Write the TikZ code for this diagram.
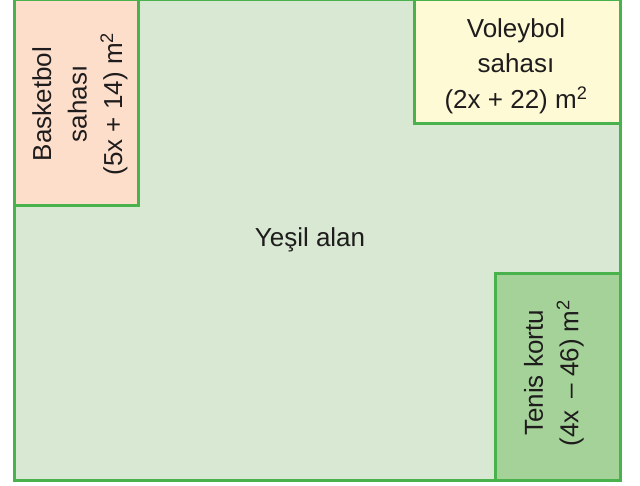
\documentclass[tikz,border=0pt]{standalone}
\usepackage{fontspec}
\setmainfont{Liberation Sans}
\definecolor{lineg}{RGB}{74,178,77}
\definecolor{grassc}{RGB}{217,232,210}
\definecolor{basketc}{RGB}{253,222,203}
\definecolor{voleyc}{RGB}{255,250,214}
\definecolor{tenisc}{RGB}{164,210,152}
\definecolor{textc}{RGB}{30,28,28}
\begin{document}
\begin{tikzpicture}[x=1pt,y=1pt,
  field/.style={draw=lineg, line width=3pt, inner sep=0pt, anchor=south west},
  lbl/.style={font=\fontsize{26}{35.5}\selectfont, align=center, text=textc, inner sep=0pt}]
\useasboundingbox (0,0) rectangle (640,485);
\node[field, fill=grassc, minimum width=606pt, minimum height=481pt] (outer) at (13,3) {};
\node[field, fill=basketc, minimum width=124pt, minimum height=206pt] (basket) at (13,278) {};
\node[field, fill=voleyc, minimum width=206pt, minimum height=124pt] (voley) at (413,360) {};
\node[field, fill=tenisc, minimum width=125pt, minimum height=207pt] (tenis) at (494,3) {};
\node[lbl] (grasslbl) at (310,245) {Yeşil alan};
\node[lbl, rotate=90] (basketlbl) at (80,381) {Basketbol\\sahası\\(5x + 14) m\textsuperscript{2}};
\node[lbl] (voleylbl) at (516,419) {Voleybol\\sahası\\(2x + 22) m\textsuperscript{2}};
\node[lbl, rotate=90] (tenislbl) at (554,112) {Tenis kortu\\(4x \,– 46) m\textsuperscript{2}};
\end{tikzpicture}
\end{document}
